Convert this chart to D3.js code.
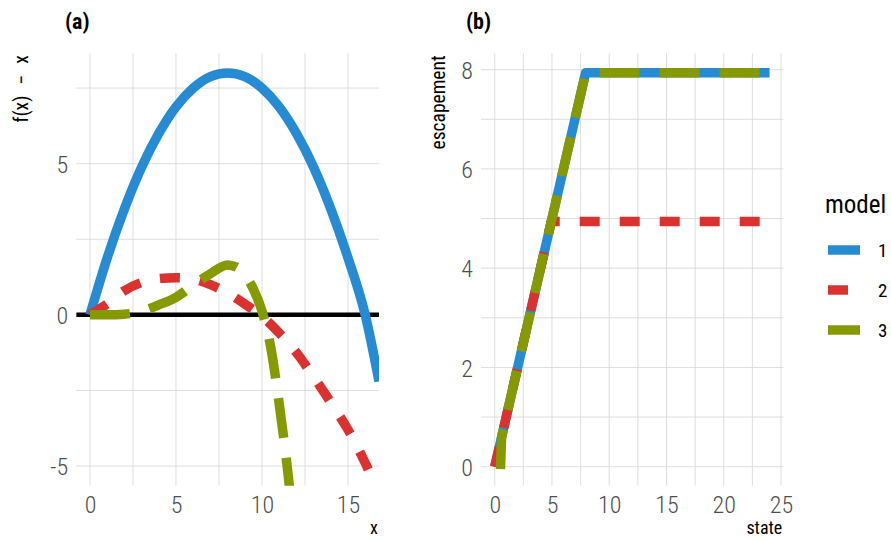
<!DOCTYPE html>
<html><head><meta charset="utf-8">
<script src="https://cdn.jsdelivr.net/npm/d3@7"></script>
<style>body{margin:0;background:#fff}</style>
</head><body>
<svg id="chart" width="891" height="541"></svg>
<script>
// ---------- data ----------
const models = ["1", "2", "3"];
const colors = ["#268bd2", "#dc322f", "#859900"];
const dashes = ["none", "20 20", "40 20"];

// panel (a): f(x) - x
const aModel1 = [[0,0],[1,1.88],[2,3.5],[3,4.88],[4,6.0],[5,6.88],[6,7.5],[7,7.88],[8,8.0],[9,7.88],[10,7.5],[11,6.88],[12,6.0],[13,4.88],[14,3.5],[15,1.88],[16,0],[16.8,-2.2]];
const aModel2 = [[0,0],[1,0.36],[2,0.8],[3,1.07],[4,1.2],[5,1.23],[6,1.18],[7,1.0],[8,0.72],[9,0.36],[10,-0.05],[11,-0.6],[12,-1.25],[13,-2.05],[14,-2.9],[15,-3.8],[16,-4.9],[17,-6.2]];
const aModel3 = [[0,0],[1,0.0],[2,0.02],[3,0.12],[4,0.33],[5,0.58],[6,0.98],[7,1.36],[8,1.65],[8.5,1.58],[9,1.32],[9.5,0.85],[10,0.12],[10.5,-1.05],[11,-2.95],[11.5,-5.2],[12,-8]];

// panel (b): escapement vs state
const bModel1 = [[0,0],[7.94,7.94],[24,7.94]];
const bModel2 = [[0,0],[4.94,4.94],[24,4.94]];
const bModel3 = [[0.5,-0.05],[0.6,0.6],[7.94,7.94],[24,7.94]];

const aXTicks = [0, 5, 10, 15];
const aYTicks = [-5, 0, 5];
const aXMinor = [2.5, 7.5, 12.5];
const aYMinor = [-2.5, 2.5, 7.5];
const bXTicks = [0, 5, 10, 15, 20, 25];
const bYTicks = [0, 2, 4, 6, 8];
const bXMinor = [2.5, 7.5, 12.5, 17.5, 22.5];
const bYMinor = [1, 3, 5, 7];

// ---------- drawing ----------
const svg = d3.select("#chart");
const FONT = "'Roboto Condensed', Roboto, sans-serif";
const GRID = "#d9d9d9";

function panel(opts) {
  const x = d3.scaleLinear().domain(opts.xDomain).range([opts.left, opts.right]);
  const y = d3.scaleLinear().domain(opts.yDomain).range([opts.bottom, opts.top]);
  const g = svg.append("g");
  const clipId = "clip" + opts.id;
  svg.append("clipPath").attr("id", clipId).append("rect")
    .attr("x", opts.left).attr("y", opts.top)
    .attr("width", opts.right - opts.left).attr("height", opts.bottom - opts.top);

  // grid
  const grid = g.append("g");
  grid.selectAll("line.vx").data(opts.xMinor.concat(opts.xTicks).filter(v => x(v) >= opts.left - 0.5 && x(v) <= opts.right + 0.5))
    .join("line").attr("x1", d => x(d)).attr("x2", d => x(d))
    .attr("y1", opts.top).attr("y2", opts.bottom)
    .attr("stroke", GRID).attr("stroke-width", 0.9);
  grid.selectAll("line.hy").data(opts.yMinor.concat(opts.yTicks))
    .join("line").attr("y1", d => y(d)).attr("y2", d => y(d))
    .attr("x1", opts.left).attr("x2", opts.right)
    .attr("stroke", GRID).attr("stroke-width", 0.9);

  // axes via d3 axis generators (styled, domain removed)
  const fmt = d => String(d);
  const xAxis = g.append("g").attr("transform", `translate(0,${opts.bottom})`)
    .call(d3.axisBottom(x).tickValues(opts.xTicks).tickSize(0).tickPadding(27).tickFormat(fmt));
  const yAxis = g.append("g").attr("transform", `translate(${opts.left},0)`)
    .call(d3.axisLeft(y).tickValues(opts.yTicks).tickSize(0).tickPadding(8).tickFormat(fmt));
  [xAxis, yAxis].forEach(a => {
    a.select(".domain").remove();
    a.selectAll("text").attr("font-family", FONT).attr("font-size", 24)
      .attr("fill", "#4d4d4d").attr("font-weight", 300);
  });
  xAxis.selectAll("text").attr("dy", 0);
  yAxis.selectAll("text").attr("dy", "0.36em");

  const content = g.append("g").attr("clip-path", `url(#${clipId})`);
  if (opts.hline !== undefined) {
    content.append("line").attr("x1", opts.left).attr("x2", opts.right)
      .attr("y1", y(opts.hline)).attr("y2", y(opts.hline))
      .attr("stroke", "#000").attr("stroke-width", 4.5);
  }
  const line = d3.line().x(d => x(d[0])).y(d => y(d[1])).curve(opts.curve);
  opts.series.forEach((s, i) => {
    content.append("path").attr("d", line(s))
      .attr("fill", "none").attr("stroke", colors[i]).attr("stroke-width", 9.5)
      .attr("stroke-dasharray", dashes[i]).attr("stroke-linecap", "butt")
      .attr("stroke-linejoin", "round");
  });

  // panel tag
  svg.append("text").attr("x", opts.tagX).attr("y", 29).text(opts.tag)
    .attr("font-family", FONT).attr("font-weight", "bold").attr("font-size", 22).attr("fill", "#000");
  // x title (right aligned)
  svg.append("text").attr("x", opts.right - 1).attr("y", 534).attr("text-anchor", "end")
    .text(opts.xTitle).attr("font-family", FONT).attr("font-size", 18).attr("fill", "#000");
  // y title (top aligned)
  const yt = svg.append("text").attr("transform", `translate(${opts.yTitleX},${opts.top + 2}) rotate(-90)`)
    .attr("text-anchor", "end")
    .attr("font-family", FONT).attr("font-size", 19.5).attr("fill", "#000");
  opts.yTitle.forEach((part, k) => {
    yt.append("tspan").attr("dx", k === 0 ? 0 : 11).text(part);
  });
}

panel({
  id: "a", left: 76.2, right: 379, top: 53.3, bottom: 485.7,
  xDomain: [-0.8, 16.8], yDomain: [-5.65, 8.65],
  xTicks: aXTicks, yTicks: aYTicks, xMinor: aXMinor, yMinor: aYMinor,
  series: [aModel1, aModel2, aModel3], curve: d3.curveMonotoneX, hline: 0,
  tag: "(a)", tagX: 65, xTitle: "x", yTitle: ["f(x)", "\u2212", "x"], yTitleX: 28
});
panel({
  id: "b", left: 481, right: 783.3, top: 53.3, bottom: 485.7,
  xDomain: [-1.2, 25.2], yDomain: [-0.383, 8.33],
  xTicks: bXTicks, yTicks: bYTicks, xMinor: bXMinor, yMinor: bYMinor,
  series: [bModel1, bModel2, bModel3], curve: d3.curveLinear,
  tag: "(b)", tagX: 466, xTitle: "state", yTitle: ["escapement"], yTitleX: 444.5
});

// legend
const leg = svg.append("g");
leg.append("text").attr("x", 825).attr("y", 213).text("model")
  .attr("font-family", FONT).attr("font-size", 25).attr("fill", "#000");
const keyY = d3.scalePoint().domain(models).range([250, 330]);
models.forEach((m, i) => {
  leg.append("line").attr("x1", 828).attr("x2", 860)
    .attr("y1", keyY(m)).attr("y2", keyY(m))
    .attr("stroke", colors[i]).attr("stroke-width", 9.5)
    .attr("stroke-dasharray", dashes[i]).attr("stroke-linecap", "butt");
  leg.append("text").attr("x", 878).attr("y", keyY(m) + 7).text(m)
    .attr("font-family", FONT).attr("font-size", 19).attr("fill", "#000");
});
</script>
</body></html>
